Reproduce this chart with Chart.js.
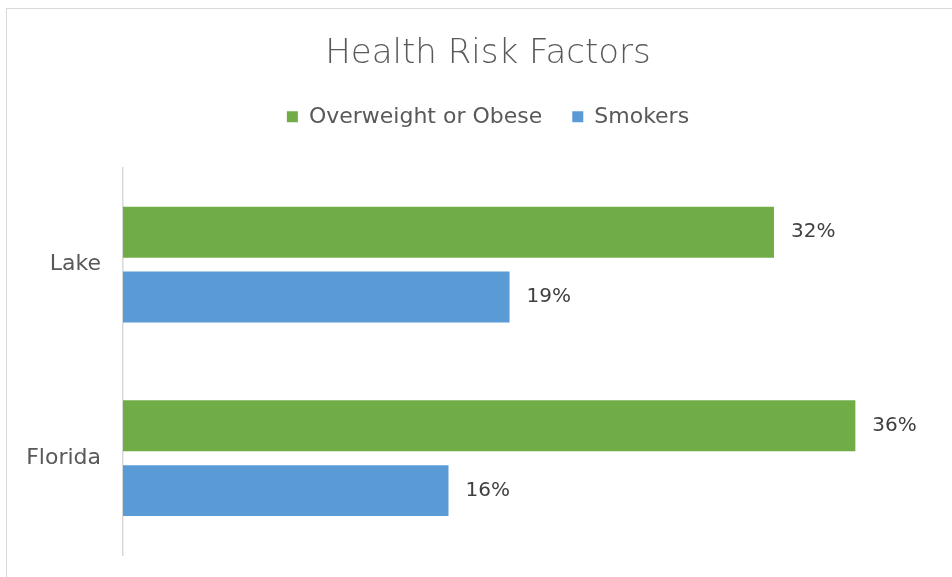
<!DOCTYPE html>
<html>
<head>
<meta charset="utf-8">
<script src="https://cdn.jsdelivr.net/npm/chart.js@4"></script>
<style>
  html, body { margin: 0; padding: 0; background: #fff; overflow: hidden; }
  #wrap { position: relative; width: 952px; height: 577px; }
  #frame { position: absolute; left: 6px; top: 8px; width: 980px; height: 600px;
           border: 1.5px solid #d9d9d9; box-sizing: border-box; }
  #c { position: absolute; left: 0; top: 0; }
</style>
</head>
<body>
<div id="wrap">
  <div id="frame"></div>
  <canvas id="c" width="952" height="577"></canvas>
</div>
<script>
const categories = ['Lake', 'Florida'];
const overweight = [32, 36];
const smokers = [19, 16];
const seriesNames = ['Overweight or Obese', 'Smokers'];
const valueAxisMax = 40.75;

const FONT = "'DejaVu Sans', sans-serif";

// Percentage labels just past the end of each bar
const barLabels = {
  id: 'barLabels',
  afterDatasetsDraw(chart) {
    const ctx = chart.ctx;
    ctx.save();
    ctx.font = '20px ' + FONT;
    ctx.fillStyle = '#404040';
    ctx.textAlign = 'left';
    ctx.textBaseline = 'middle';
    chart.data.datasets.forEach((ds, i) => {
      chart.getDatasetMeta(i).data.forEach((bar, j) => {
        ctx.fillText(ds.data[j] + '%', bar.x + 17, bar.y);
      });
    });
    ctx.restore();
  }
};

// Extra room below the legend before the plot starts
const legendGap = {
  id: 'legendGap',
  beforeInit(chart) {
    const origFit = chart.legend.fit;
    chart.legend.fit = function () {
      origFit.call(this);
      this.height += 30;
    };
  }
};

new Chart(document.getElementById('c'), {
  type: 'bar',
  data: {
    labels: categories,
    datasets: [
      { label: seriesNames[0], data: overweight, backgroundColor: '#70AD47' },
      { label: seriesNames[1], data: smokers, backgroundColor: '#5B9BD5' }
    ]
  },
  options: {
    indexAxis: 'y',
    responsive: false,
    animation: false,
    // the chart box runs past the right edge of the page
    layout: { padding: { left: 0, right: -24, top: 0, bottom: 22 } },
    datasets: { bar: { categoryPercentage: 0.67, barPercentage: 0.785 } },
    scales: {
      x: { display: false, min: 0, max: valueAxisMax },
      y: {
        grid: { display: false, drawTicks: false },
        border: { display: true, color: '#d9d9d9', width: 1.5 },
        ticks: { color: '#595959', font: { family: FONT, size: 22 }, padding: 22 },
        afterFit(scale) {
          scale.width = 123;
          scale.paddingTop = 0;
          scale.paddingBottom = 0;
        }
      }
    },
    plugins: {
      title: {
        display: true,
        text: 'Health Risk Factors',
        color: '#595959',
        font: { family: FONT, size: 34, weight: 300 },
        padding: { top: 34, bottom: 1 }
      },
      legend: {
        display: true,
        labels: {
          color: '#595959',
          font: { family: FONT, size: 22 },
          boxWidth: 11, boxHeight: 11, padding: 30
        }
      },
      tooltip: { enabled: false }
    }
  },
  plugins: [barLabels, legendGap]
});
</script>
</body>
</html>
